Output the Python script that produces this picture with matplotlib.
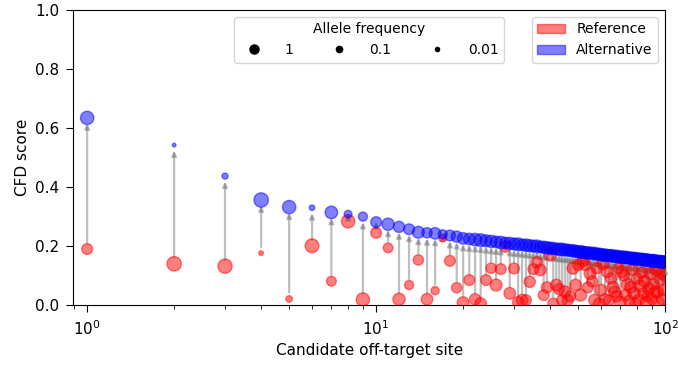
import numpy as np
import matplotlib
matplotlib.use("Agg")
from matplotlib import pyplot as plt
from matplotlib.lines import Line2D
from matplotlib.patches import Patch

# CFD score of each candidate off-target site, ranked by alternative score
alt_score = [0.634, 0.542, 0.437, 0.356, 0.332, 0.330, 0.314, 0.308, 0.300, 0.281,
             0.274, 0.265, 0.257, 0.247, 0.245, 0.243, 0.240, 0.236, 0.232, 0.226,
             0.224, 0.222, 0.220, 0.218, 0.216, 0.214, 0.212, 0.211, 0.209, 0.207,
             0.206, 0.204, 0.203, 0.201, 0.200, 0.199, 0.197, 0.196, 0.194, 0.193,
             0.192, 0.190, 0.189, 0.188, 0.187, 0.186, 0.185, 0.184, 0.182, 0.181,
             0.180, 0.179, 0.178, 0.177, 0.176, 0.175, 0.174, 0.173, 0.172, 0.171,
             0.170, 0.169, 0.168, 0.168, 0.167, 0.166, 0.165, 0.165, 0.164, 0.163,
             0.162, 0.162, 0.161, 0.160, 0.160, 0.159, 0.158, 0.158, 0.157, 0.156,
             0.156, 0.155, 0.155, 0.154, 0.153, 0.153, 0.152, 0.152, 0.151, 0.150,
             0.150, 0.149, 0.149, 0.148, 0.148, 0.147, 0.147, 0.146, 0.146, 0.145]

ref_score = [0.190, 0.140, 0.132, 0.176, 0.021, 0.201, 0.081, 0.284, 0.019, 0.245,
             0.194, 0.020, 0.068, 0.153, 0.020, 0.049, 0.227, 0.150, 0.059, 0.008,
             0.085, 0.020, 0.005, 0.085, 0.125, 0.068, 0.122, 0.198, 0.040, 0.124,
             0.010, 0.017, 0.017, 0.079, 0.122, 0.145, 0.119, 0.034, 0.060, 0.170,
             0.005, 0.068, 0.054, 0.017, 0.045, 0.017, 0.030, 0.125, 0.068, 0.136,
             0.034, 0.150, 0.136, 0.060, 0.107, 0.080, 0.017, 0.125, 0.005, 0.051,
             0.140, 0.020, 0.113, 0.017, 0.090, 0.060, 0.045, 0.030, 0.125, 0.010,
             0.113, 0.100, 0.034, 0.070, 0.015, 0.060, 0.120, 0.040, 0.005, 0.090,
             0.017, 0.065, 0.110, 0.040, 0.080, 0.010, 0.030, 0.055, 0.107, 0.020,
             0.070, 0.045, 0.120, 0.045, 0.010, 0.085, 0.107, 0.020, 0.050, 0.100]

# allele frequencies (marker size)
alt_freq = [0.70, 0.004, 0.03, 0.95, 0.70, 0.02, 0.55, 0.08, 0.15, 0.30,
            0.50, 0.35, 0.30, 0.45, 0.25, 0.40, 0.15, 0.30, 0.35, 0.40,
            0.40, 0.55, 0.60, 0.45, 0.50, 0.40, 0.55, 0.35, 0.50, 0.45,
            0.60, 0.40, 0.55, 0.50, 0.45, 0.60, 0.40, 0.50, 0.55, 0.45,
            0.50, 0.40, 0.55, 0.60, 0.45, 0.50, 0.40, 0.55, 0.50, 0.45,
            0.60, 0.50, 0.40, 0.55, 0.45, 0.50, 0.60, 0.40, 0.55, 0.50,
            0.45, 0.55, 0.50, 0.40, 0.60, 0.45, 0.50, 0.55, 0.40, 0.50,
            0.55, 0.45, 0.60, 0.50, 0.40, 0.55, 0.50, 0.45, 0.60, 0.50,
            0.40, 0.55, 0.50, 0.45, 0.60, 0.50, 0.55, 0.40, 0.50, 0.45,
            0.60, 0.50, 0.55, 0.40, 0.50, 0.45, 0.55, 0.50, 0.60, 0.50]

ref_freq = [0.30, 0.95, 0.90, 0.01, 0.04, 0.80, 0.20, 0.70, 0.70, 0.30,
            0.20, 0.50, 0.15, 0.25, 0.40, 0.10, 0.08, 0.30, 0.25, 0.45,
            0.30, 0.35, 0.40, 0.30, 0.25, 0.45, 0.30, 0.35, 0.40, 0.30,
            0.35, 0.40, 0.30, 0.35, 0.30, 0.35, 0.40, 0.30, 0.35, 0.45,
            0.30, 0.40, 0.35, 0.30, 0.40, 0.35, 0.30, 0.45, 0.40, 0.35,
            0.45, 0.40, 0.35, 0.30, 0.45, 0.35, 0.40, 0.30, 0.35, 0.40,
            0.45, 0.35, 0.40, 0.30, 0.35, 0.45, 0.40, 0.35, 0.30, 0.40,
            0.45, 0.35, 0.40, 0.45, 0.30, 0.40, 0.35, 0.45, 0.40, 0.35,
            0.40, 0.45, 0.35, 0.30, 0.40, 0.45, 0.35, 0.40, 0.45, 0.30,
            0.40, 0.35, 0.45, 0.40, 0.35, 0.30, 0.40, 0.45, 0.35, 0.40]

freq_labels = ["1", "0.1", "0.01"]

rank = np.arange(1, len(alt_score) + 1)


def freq_to_size(f):
	return 110*np.sqrt(np.asarray(f))


fig = plt.figure(figsize=(6.78, 3.65), dpi=100)
ax = fig.add_axes([0.108, 0.164, 0.873, 0.809])

#arrows from reference to alternative
for x, r, a in zip(rank, ref_score, alt_score):
	ax.annotate("", xy=(x, a), xytext=(x, r),
		arrowprops=dict(arrowstyle="-|>", color="gray", alpha=0.5, lw=1.6,
			mutation_scale=7, shrinkA=4.5, shrinkB=4))

ax.scatter(rank, ref_score, s=freq_to_size(ref_freq), c="red", alpha=0.5, zorder=3)
ax.scatter(rank, alt_score, s=freq_to_size(alt_freq), c="blue", alpha=0.5, zorder=3)

ax.set_xscale("log")
ax.set_xlim(0.895, 100)
ax.set_ylim(0, 1)
ax.tick_params(which="major", labelsize=11, length=5, pad=5)
ax.tick_params(which="minor", length=3)
ax.set_xlabel("Candidate off-target site", fontsize=11)
ax.set_ylabel("CFD score", fontsize=11)

size_handles = [Line2D([], [], marker="o", color="black", linestyle="none", markersize=ms)
	for ms in [6.5, 4.5, 3.0]]
leg1 = ax.legend(size_handles, freq_labels, title="Allele frequency", ncol=3,
	loc="upper center", columnspacing=2.3, handletextpad=1.2)
ax.add_artist(leg1)

color_handles = [Patch(facecolor="red", edgecolor="red", alpha=0.5),
	Patch(facecolor="blue", edgecolor="blue", alpha=0.5)]
ax.legend(color_handles, ["Reference", "Alternative"], loc="upper right")

fig.savefig("out.png", dpi=100)
